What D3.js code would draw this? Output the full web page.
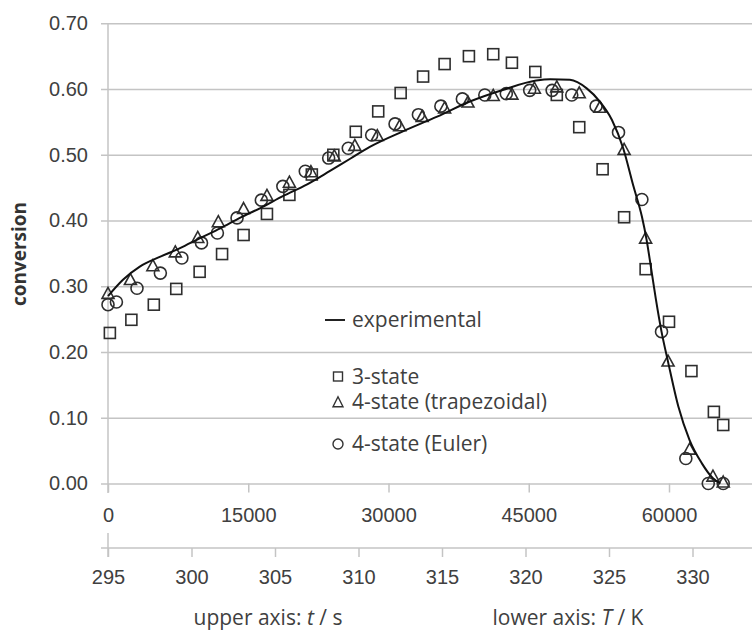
<!DOCTYPE html>
<html>
<head>
<meta charset="utf-8">
<script src="https://cdn.jsdelivr.net/npm/d3@7"></script>
<style>
  html, body { margin: 0; padding: 0; background: #fff; }
  svg { display: block; font-family: "Open Sans", "Liberation Sans", sans-serif; }
</style>
</head>
<body>
<svg id="chart" width="752" height="631"></svg>
<script>
// ---------- data ----------
const yTicks = [0, 0.1, 0.2, 0.3, 0.4, 0.5, 0.6, 0.7];
const timeTicks = [0, 15000, 30000, 45000, 60000];
const tempTicks = [295, 300, 305, 310, 315, 320, 325, 330];

// experimental curve (t in s, conversion)
const expT = [0, 1600, 3400, 5600, 7700, 9800, 12000, 14100, 16300, 18700, 21300, 23700, 25900, 28000, 31600, 35200, 38700, 42300, 45800, 47300, 49400, 51200, 52600, 53900, 55100, 56200, 57100, 57600, 58100, 58600, 59200, 59900, 61000, 62200, 63500, 64700, 65500];
const expV = [0.285, 0.310, 0.330, 0.345, 0.358, 0.373, 0.388, 0.404, 0.419, 0.437, 0.455, 0.475, 0.494, 0.512, 0.536, 0.558, 0.581, 0.599, 0.613, 0.615, 0.614, 0.601, 0.581, 0.553, 0.510, 0.452, 0.406, 0.371, 0.326, 0.280, 0.231, 0.185, 0.117, 0.066, 0.031, 0.008, 0.000];

// 3-state (squares)
const sqT = [200, 2500, 4900, 7300, 9800, 12200, 14500, 17000, 19400, 21800, 24100, 26500, 28900, 31300, 33700, 36000, 38600, 41200, 43200, 45700, 48000, 50400, 52900, 55200, 57500, 60000, 62400, 64800, 65800];
const sqV = [0.229, 0.249, 0.272, 0.296, 0.322, 0.349, 0.378, 0.410, 0.439, 0.470, 0.500, 0.535, 0.566, 0.594, 0.619, 0.638, 0.650, 0.653, 0.640, 0.626, 0.591, 0.542, 0.478, 0.405, 0.326, 0.246, 0.171, 0.109, 0.089];

// 4-state trapezoidal (triangles)
const trT = [0, 2400, 4800, 7200, 9600, 11800, 14500, 17000, 19400, 21700, 24200, 26400, 28800, 31200, 33600, 36000, 38500, 41200, 43200, 45600, 48000, 50400, 52600, 55200, 57500, 59900, 62200, 64700, 65800];
const trV = [0.288, 0.309, 0.330, 0.351, 0.373, 0.397, 0.417, 0.437, 0.457, 0.473, 0.497, 0.513, 0.528, 0.543, 0.557, 0.570, 0.579, 0.589, 0.591, 0.600, 0.602, 0.593, 0.571, 0.507, 0.372, 0.185, 0.051, 0.010, 0.001];

// 4-state Euler (circles)
const euT = [0, 900, 3100, 5600, 7900, 10000, 11700, 13800, 16400, 18700, 21100, 23600, 25700, 28200, 30700, 33200, 35600, 37900, 40300, 42600, 45100, 47500, 49600, 52200, 54600, 57100, 59200, 61800, 64200, 65800];
const euV = [0.272, 0.276, 0.297, 0.320, 0.343, 0.366, 0.381, 0.404, 0.431, 0.452, 0.475, 0.495, 0.510, 0.530, 0.547, 0.561, 0.574, 0.585, 0.591, 0.593, 0.598, 0.598, 0.591, 0.574, 0.534, 0.432, 0.231, 0.038, 0.000, 0.000];

const legendLabels = ["experimental", "3-state", "4-state (trapezoidal)", "4-state (Euler)"];
const legendKeys = ["line", "square", "triangle", "circle"];

// ---------- layout ----------
const svg = d3.select("#chart");
const W = 752;
const textColor = "#404040";
const gridColor = "#c4c4c4";
const markColor = "#2e2e2e";

const x = d3.scaleLinear().domain([0, 60000]).range([108, 669]);
const xK = d3.scaleLinear().domain([295, 330]).range([108, 692.5]);
const y = d3.scaleLinear().domain([0, 0.7]).range([483.5, 23.3]);

// y axis with gridlines
const gridLeft = 101;
const yAxis = d3.axisLeft(y).tickValues(yTicks).tickFormat(d3.format(".2f"))
  .tickSizeInner(-(W - gridLeft)).tickSizeOuter(0).tickPadding(13);
const gy = svg.append("g").attr("transform", `translate(${gridLeft},0)`).call(yAxis);
gy.select(".domain").remove();
gy.selectAll(".tick line").attr("stroke", gridColor).attr("stroke-width", 1.5);
gy.selectAll(".tick text").attr("fill", textColor).style("font-size", "20px");

// vertical plot axis line
svg.append("line").attr("x1", x(0)).attr("x2", x(0)).attr("y1", y(0.7)).attr("y2", 493)
  .attr("stroke", gridColor).attr("stroke-width", 1.5);

// upper (time) axis on the zero line
const xAxis = d3.axisBottom(x).tickValues(timeTicks).tickFormat(d3.format("d"))
  .tickSizeInner(9).tickSizeOuter(0).tickPadding(15);
const gx = svg.append("g").attr("transform", `translate(0,${y(0)})`).call(xAxis);
gx.select(".domain").remove();
gx.selectAll(".tick line").attr("stroke", gridColor).attr("stroke-width", 1.5);
gx.selectAll(".tick text").attr("fill", textColor).style("font-size", "20px");

// lower (temperature) axis
const kY = 548;
const kAxis = d3.axisBottom(xK).tickValues(tempTicks).tickFormat(d3.format("d"))
  .tickSizeInner(9).tickSizeOuter(0).tickPadding(13);
const gk = svg.append("g").attr("transform", `translate(0,${kY})`).call(kAxis);
gk.select(".domain").remove();
gk.selectAll(".tick line").attr("stroke", gridColor).attr("stroke-width", 1.5);
gk.selectAll(".tick text").attr("fill", textColor).style("font-size", "20px");
svg.append("line").attr("x1", gridLeft).attr("x2", W).attr("y1", kY).attr("y2", kY)
  .attr("stroke", gridColor).attr("stroke-width", 1.5);
svg.append("line").attr("x1", xK(295)).attr("x2", xK(295)).attr("y1", 533).attr("y2", 557)
  .attr("stroke", gridColor).attr("stroke-width", 1.5);

// axis titles
const t1 = svg.append("text").attr("x", 268).attr("y", 625).attr("text-anchor", "middle")
  .attr("fill", textColor).style("font-size", "21px");
t1.append("tspan").text("upper axis: ");
t1.append("tspan").attr("font-style", "italic").text("t");
t1.append("tspan").text(" / s");
const t2 = svg.append("text").attr("x", 568).attr("y", 625).attr("text-anchor", "middle")
  .attr("fill", textColor).style("font-size", "21px");
t2.append("tspan").text("lower axis: ");
t2.append("tspan").attr("font-style", "italic").text("T");
t2.append("tspan").text(" / K");

svg.append("text").attr("transform", "translate(26,254) rotate(-90)").attr("text-anchor", "middle")
  .attr("fill", "#333").attr("font-weight", "bold").style("font-size", "19px").text("conversion");

// ---------- marks ----------
const plot = svg.append("g");
const sqData = sqT.map((t, i) => ({ t, v: sqV[i] }));
const trData = trT.map((t, i) => ({ t, v: trV[i] }));
const euData = euT.map((t, i) => ({ t, v: euV[i] }));
const expData = expT.map((t, i) => ({ t, v: expV[i] }));

const S = 11;
plot.selectAll("rect.sq").data(sqData).join("rect").attr("class", "sq")
  .attr("x", d => x(d.t) - S / 2).attr("y", d => y(d.v) - S / 2)
  .attr("width", S).attr("height", S)
  .attr("fill", "none").attr("stroke", markColor).attr("stroke-width", 1.6);

const triPath = (cx, cy, w, h) => `M${cx},${cy - h * 0.62}L${cx + w / 2},${cy + h * 0.38}L${cx - w / 2},${cy + h * 0.38}Z`;
plot.selectAll("path.tr").data(trData).join("path").attr("class", "tr")
  .attr("d", d => triPath(x(d.t), y(d.v), 12, 11))
  .attr("fill", "none").attr("stroke", markColor).attr("stroke-width", 1.6);

plot.selectAll("circle.eu").data(euData).join("circle").attr("class", "eu")
  .attr("cx", d => x(d.t)).attr("cy", d => y(d.v)).attr("r", 6)
  .attr("fill", "none").attr("stroke", markColor).attr("stroke-width", 1.6);

const line = d3.line().x(d => x(d.t)).y(d => y(d.v)).curve(d3.curveMonotoneX);
plot.append("path").datum(expData).attr("d", line)
  .attr("fill", "none").attr("stroke", "#111").attr("stroke-width", 2);

// ---------- legend ----------
const legY = [320, 377, 402, 444];
const leg = svg.append("g");
const items = leg.selectAll("g").data(legendLabels).join("g")
  .attr("transform", (d, i) => `translate(0,${legY[i]})`);
items.append("text").attr("x", 352).attr("y", 0).attr("dy", "0.35em")
  .attr("fill", textColor).style("font-size", "21px").text(d => d);
items.each(function (d, i) {
  const g = d3.select(this);
  const k = legendKeys[i];
  if (k === "line") g.append("line").attr("x1", 325).attr("x2", 345).attr("y1", 0).attr("y2", 0)
    .attr("stroke", "#222").attr("stroke-width", 2);
  if (k === "square") g.append("rect").attr("x", 333.5).attr("y", -5).attr("width", 9).attr("height", 9)
    .attr("fill", "none").attr("stroke", "#333").attr("stroke-width", 1.4);
  if (k === "triangle") g.append("path").attr("d", triPath(338, 1, 10, 10))
    .attr("fill", "none").attr("stroke", "#333").attr("stroke-width", 1.4);
  if (k === "circle") g.append("circle").attr("cx", 338).attr("cy", 0).attr("r", 5)
    .attr("fill", "none").attr("stroke", "#333").attr("stroke-width", 1.4);
});
</script>
</body>
</html>
